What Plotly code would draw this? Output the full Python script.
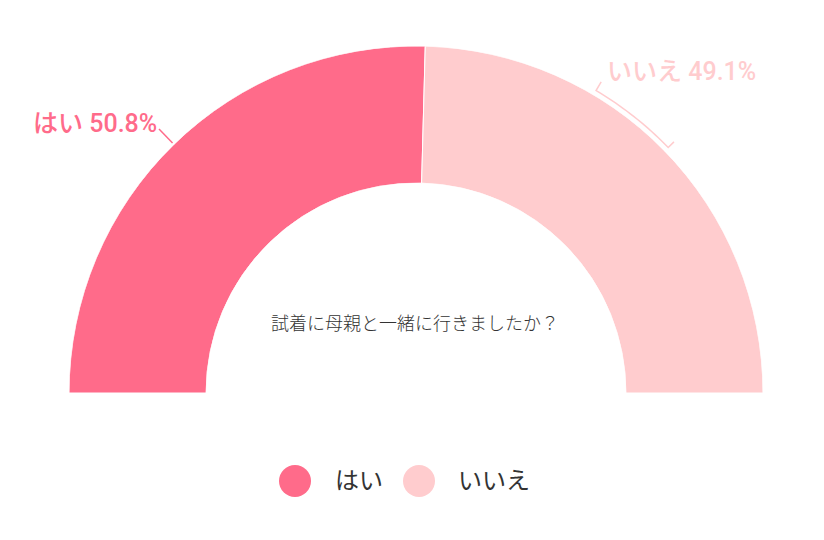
import math
import plotly.graph_objects as go

labels = ["はい", "いいえ"]
values = [50.8, 49.1]
colors = ["#FF6B8A", "#FFCCCE"]
question = "試着に母親と一緒に行きましたか？"

W, H = 824, 540
OFF = 8  # page body margin
cx, cy, R = 416, 393, 347
font = "Roboto, Noto Sans CJK JP, sans-serif"


def pp(x, y):
    # screen pixel -> paper coords
    return (x - OFF) / W, 1 - (y - OFF) / H


total = sum(values)
spans = [v / total * 180 for v in values]
mids = []
acc = 0
for s in spans:
    mids.append(acc + s / 2)
    acc += s


def px(angle, r):
    # angle measured clockwise from the left end of the half circle
    a = math.radians(180 - angle)
    return pp(cx + r * math.cos(a), cy - r * math.sin(a))


fig = go.Figure()
fig.add_trace(go.Barpolar(
    r=[1] * len(values), theta=mids, width=spans,
    marker=dict(color=colors, line=dict(color="white", width=1)),
    showlegend=False, hoverinfo="skip",
))

dx0, dy1 = pp(cx - R, cy - R)
dx1, dy0 = pp(cx + R, cy)
fig.update_layout(
    width=W, height=H, margin=dict(l=0, r=0, t=0, b=0),
    paper_bgcolor="white", font=dict(family=font, color="#333"),
    showlegend=False,
    polar=dict(
        domain=dict(x=[dx0, dx1], y=[dy0, dy1]),
        sector=[0, 180], hole=0.605, bgcolor="white",
        radialaxis=dict(visible=False, range=[0, 1]),
        angularaxis=dict(visible=False, direction="clockwise", rotation=180),
    ),
)

# center question
qx, qy = pp(415, 323)
fig.add_annotation(x=qx, y=qy, xref="paper", yref="paper",
                   text=question, showarrow=False,
                   font=dict(size=18, color="#333", weight=300))

# legend drawn by hand (large circles)
legend_x = [(295, 333), (419, 456)]
for (mx, tx), lab, col in zip(legend_x, labels, colors):
    a0, b0 = pp(mx - 16, 481 + 16)
    a1, b1 = pp(mx + 16, 481 - 16)
    fig.add_shape(type="circle", xref="paper", yref="paper",
                  x0=a0, y0=b0, x1=a1, y1=b1, fillcolor=col, line=dict(width=0))
    lx, ly = pp(tx, 481)
    fig.add_annotation(x=lx, y=ly, xref="paper", yref="paper", xanchor="left",
                       yanchor="middle", showarrow=False, text=lab,
                       font=dict(size=24, color="#333"))

# label for the first slice with a straight leader
x0, y0 = px(mids[0], 349)
x1, y1 = pp(159, 129)
fig.add_shape(type="line", xref="paper", yref="paper",
              x0=x0, y0=y0, x1=x1, y1=y1,
              line=dict(color=colors[0], width=1.5))
lx, ly = pp(159, 123)
fig.add_annotation(x=lx, y=ly, xref="paper", yref="paper",
                   xanchor="right", yanchor="middle", showarrow=False,
                   text=f"{labels[0]} {values[0]}%",
                   font=dict(size=25, color=colors[0], family=font, weight=500))

# bracket leader for the second slice
a_end = mids[1]
a_start = a_end - 15
pts = [px(a_start, 362)]
n = 20
for i in range(n + 1):
    pts.append(px(a_start + (a_end - a_start) * i / n, 352))
pts.append(px(a_end, 360))
path = "M " + " L ".join(f"{x},{y}" for x, y in pts)
fig.add_shape(type="path", xref="paper", yref="paper", path=path,
              line=dict(color=colors[1], width=1.5))
lx, ly = pp(605, 72)
fig.add_annotation(x=lx, y=ly, xref="paper", yref="paper",
                   xanchor="left", yanchor="middle", showarrow=False,
                   text=f"{labels[1]} {values[1]}%",
                   font=dict(size=25, color=colors[1], family=font, weight=500))

fig.write_html("out.html")
